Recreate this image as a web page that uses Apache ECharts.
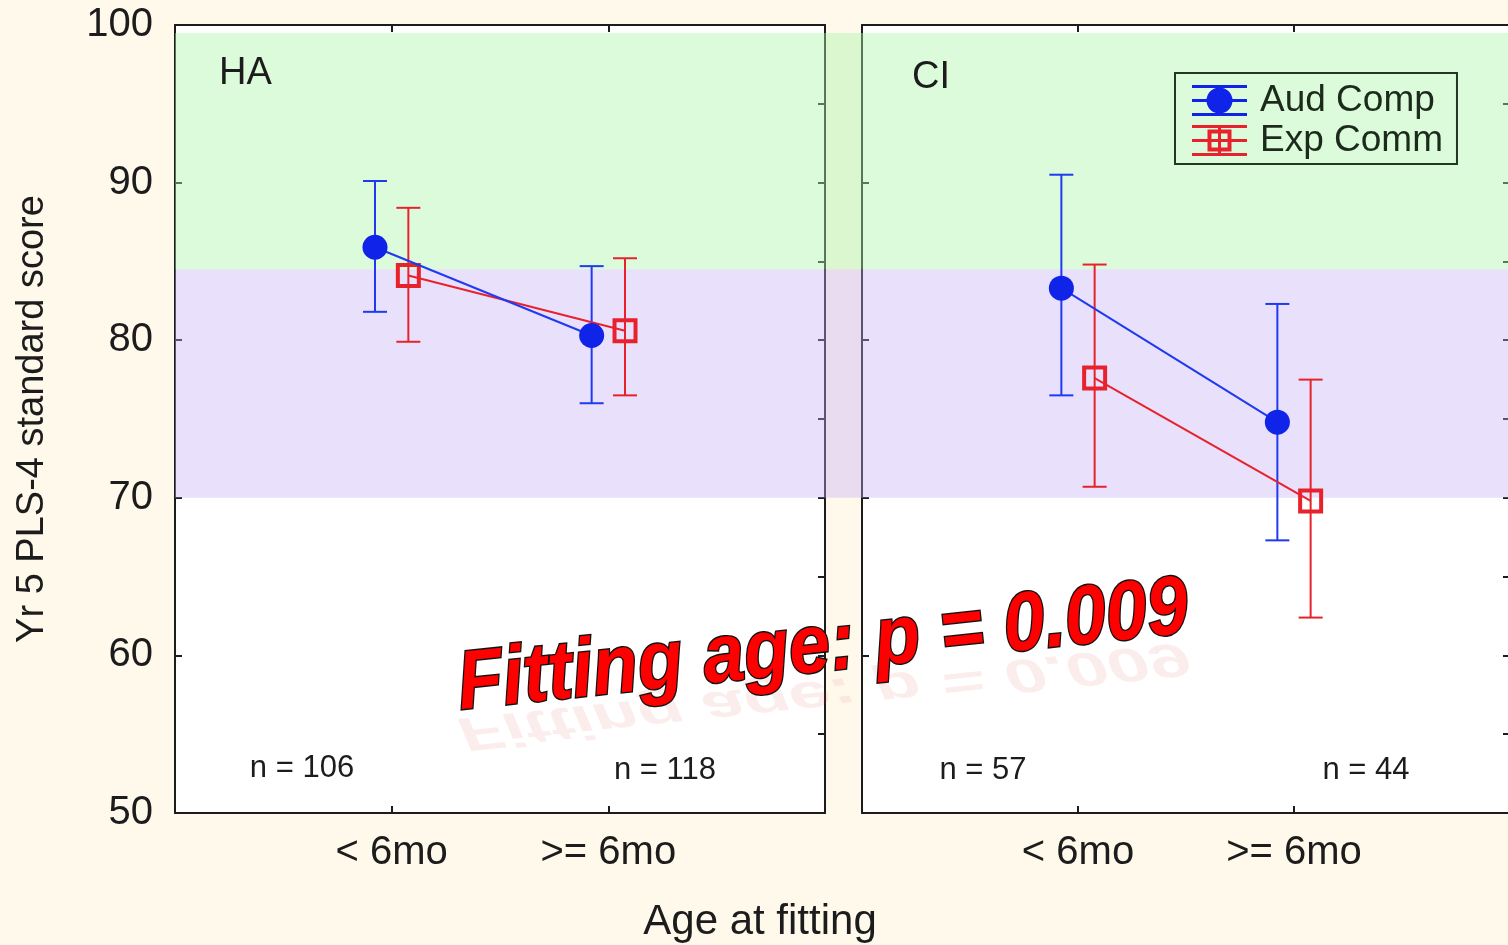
<!DOCTYPE html>
<html>
<head>
<meta charset="utf-8">
<script src="https://cdn.jsdelivr.net/npm/echarts@6/dist/echarts.min.js"></script>
<style>
  html, body { margin: 0; padding: 0; background: #fff9ec; }
  #chart { width: 1508px; height: 945px; }
</style>
</head>
<body>
<div id="chart"></div>
<script>
// age-at-fitting categories (x positions 1 and 2 on each panel)
const categories = ['< 6mo', '>= 6mo'];
const panels = ['HA', 'CI'];

// means and 95% CI ends
const haAud = [85.9, 80.3];
const haAudLo = [81.8, 76.0];
const haAudHi = [90.1, 84.7];
const haExp = [84.1, 80.6];
const haExpLo = [79.9, 76.5];
const haExpHi = [88.4, 85.2];

const ciAud = [83.3, 74.8];
const ciAudLo = [76.5, 67.3];
const ciAudHi = [90.5, 82.3];
const ciExp = [77.6, 69.8];
const ciExpLo = [70.7, 62.4];
const ciExpHi = [84.8, 77.5];

const nLabels = [['n = 106', 'n = 118'], ['n = 57', 'n = 44']];

// reference bands on the score scale
const greenBand = [84.5, 99.5];
const purpleBand = [70, 84.5];

const BLUE = '#0f24e8';
const BLUE_BAR = '#1f3af0';
const RED = '#e8222c';
const INK = '#1c1c1c';
const FONT = '"Liberation Sans", Arial, sans-serif';
const dodge = 0.077;

const chart = echarts.init(document.getElementById('chart'));

function meanData(vals, off) {
    return vals.map((v, i) => [i + 1 + off, v]);
}
function barData(lo, hi, off) {
    return lo.map((v, i) => [i + 1 + off, v, hi[i]]);
}

function errorSeries(lo, hi, off, color, axis) {
    return {
        type: 'custom',
        xAxisIndex: axis, yAxisIndex: axis,
        z: 3,
        silent: true,
        clip: false,
        data: barData(lo, hi, off),
        renderItem: function (params, api) {
            const a = api.coord([api.value(0), api.value(1)]);
            const b = api.coord([api.value(0), api.value(2)]);
            const st = { stroke: color, lineWidth: 2 };
            return {
                type: 'group',
                children: [
                    { type: 'line', shape: { x1: a[0], y1: a[1], x2: b[0], y2: b[1] }, style: st },
                    { type: 'line', shape: { x1: a[0] - 12, y1: a[1], x2: a[0] + 12, y2: a[1] }, style: st },
                    { type: 'line', shape: { x1: b[0] - 12, y1: b[1], x2: b[0] + 12, y2: b[1] }, style: st }
                ]
            };
        }
    };
}

function audSeries(vals, axis) {
    return {
        name: 'Aud Comp', type: 'line', xAxisIndex: axis, yAxisIndex: axis, z: 5,
        data: meanData(vals, -dodge),
        symbol: 'circle', symbolSize: 25,
        itemStyle: { color: BLUE },
        lineStyle: { color: BLUE_BAR, width: 2 }
    };
}
function expSeries(vals, axis) {
    return {
        name: 'Exp Comm', type: 'line', xAxisIndex: axis, yAxisIndex: axis, z: 4,
        data: meanData(vals, dodge),
        symbol: 'rect', symbolSize: 21,
        itemStyle: { color: 'rgba(0,0,0,0)', borderColor: RED, borderWidth: 4 },
        lineStyle: { color: RED, width: 2 }
    };
}

const gridBase = { top: 25, bottom: 132, outerBoundsMode: 'none', containLabel: false };
const grids = [
    Object.assign({ left: 175, right: -2, show: false }, gridBase),
    Object.assign({ left: 175, width: 650, show: true, backgroundColor: '#ffffff', borderWidth: 0, z: 0 }, gridBase),
    Object.assign({ left: 862, width: 648, show: true, backgroundColor: '#ffffff', borderWidth: 0, z: 0 }, gridBase)
];

const axisLine = { show: true, onZero: false, lineStyle: { color: INK, width: 2 } };
const axisTick = { show: true, inside: true, length: 7, lineStyle: { color: INK, width: 2 } };

function xAxes(gi) {
    return [
        {
            type: 'value', gridIndex: gi, min: 0, max: 3, interval: 1, position: 'bottom',
            axisLine: axisLine, axisTick: axisTick, splitLine: { show: false },
            axisLabel: {
                margin: 20, fontSize: 40, color: INK, fontFamily: FONT,
                formatter: v => (v >= 1 && v <= 2 ? categories[v - 1] : '')
            }
        },
        {
            type: 'value', gridIndex: gi, min: 0, max: 3, interval: 1, position: 'top',
            axisLine: axisLine, axisTick: axisTick, splitLine: { show: false },
            axisLabel: { show: false }
        }
    ];
}
function yAxes(gi, withLabels) {
    return [
        {
            type: 'value', gridIndex: gi, min: 50, max: 100, interval: 10, position: 'left',
            axisLine: axisLine, axisTick: axisTick, splitLine: { show: false },
            axisLabel: { show: withLabels, margin: 22, fontSize: 40, color: INK, fontFamily: FONT },
            name: withLabels ? 'Yr 5 PLS-4 standard score' : '',
            nameLocation: 'middle', nameGap: 123,
            nameTextStyle: { fontSize: 38, color: INK, fontFamily: FONT }
        },
        {
            type: 'value', gridIndex: gi, min: 50, max: 100, interval: 5, position: 'right',
            axisLine: axisLine, axisTick: axisTick, splitLine: { show: false },
            axisLabel: { show: false }
        }
    ];
}

const xAxis = [{ type: 'value', gridIndex: 0, min: 0, max: 1, show: false }]
    .concat(xAxes(1), xAxes(2));
const yAxis = [{ type: 'value', gridIndex: 0, min: 50, max: 100, show: false }]
    .concat(yAxes(1, true), yAxes(2, false));

// axis index 1 -> HA panel, 3 -> CI panel
const series = [
    {
        type: 'line', xAxisIndex: 0, yAxisIndex: 0, z: 1, silent: true,
        data: [[0, 40]], showSymbol: false, lineStyle: { opacity: 0 },
        markArea: {
            silent: true,
            data: [
                [{ yAxis: greenBand[0], itemStyle: { color: 'rgba(170,246,170,0.42)' } }, { yAxis: greenBand[1] }],
                [{ yAxis: purpleBand[0], itemStyle: { color: 'rgba(196,174,248,0.38)' } }, { yAxis: purpleBand[1] }]
            ]
        }
    },
    errorSeries(haAudLo, haAudHi, -dodge, BLUE_BAR, 1),
    errorSeries(haExpLo, haExpHi, dodge, RED, 1),
    expSeries(haExp, 1),
    audSeries(haAud, 1),
    errorSeries(ciAudLo, ciAudHi, -dodge, BLUE_BAR, 3),
    errorSeries(ciExpLo, ciExpHi, dodge, RED, 3),
    expSeries(ciExp, 3),
    audSeries(ciAud, 3)
];

const audIcon = 'path://M0,0h55v3h-55z M0,14h55v3h-55z M0,28h55v3h-55z M26,0h3v31h-3z M40.5,15.5a13,13 0 1,1 -26,0a13,13 0 1,1 26,0z';
const expIcon = 'path://M0,0h55v3h-55z M0,14h55v3h-55z M0,28h55v3h-55z M26,0h3v31h-3z M15.5,4.5h24v22h-24z M19.5,8.5v14h16v-14z';

const textStyle = (size) => ({ fill: INK, font: size + 'px ' + FONT });
const banner = 'Fitting age: p = 0.009';

const option = {
    backgroundColor: '#fff9ec',
    animation: false,
    grid: grids,
    xAxis: xAxis,
    yAxis: yAxis,
    legend: {
        orient: 'vertical',
        left: 1175, top: 73,
        padding: [9, 14, 5, 17],
        itemGap: 3,
        itemWidth: 55, itemHeight: 31,
        borderColor: '#233823', borderWidth: 2,
        textStyle: { fontSize: 37, color: '#1c2a1c', fontFamily: FONT, padding: [0, 0, 0, 8] },
        data: [
            { name: 'Aud Comp', icon: audIcon, itemStyle: { color: BLUE, borderWidth: 0 } },
            { name: 'Exp Comm', icon: expIcon, itemStyle: { color: RED, borderWidth: 0 } }
        ],
        selectedMode: false
    },
    graphic: [
        { type: 'text', z: 20, left: 219, top: 55, style: Object.assign({ text: panels[0] }, textStyle(38)) },
        { type: 'text', z: 20, left: 912, top: 59, style: Object.assign({ text: panels[1] }, textStyle(38)) },
        { type: 'text', z: 20, x: 302, y: 768, style: Object.assign({ text: nLabels[0][0], align: 'center', verticalAlign: 'middle' }, textStyle(31)) },
        { type: 'text', z: 20, x: 665, y: 770, style: Object.assign({ text: nLabels[0][1], align: 'center', verticalAlign: 'middle' }, textStyle(31)) },
        { type: 'text', z: 20, x: 983, y: 770, style: Object.assign({ text: nLabels[1][0], align: 'center', verticalAlign: 'middle' }, textStyle(31)) },
        { type: 'text', z: 20, x: 1366, y: 770, style: Object.assign({ text: nLabels[1][1], align: 'center', verticalAlign: 'middle' }, textStyle(31)) },
        { type: 'text', z: 20, x: 760, y: 922, style: Object.assign({ text: 'Age at fitting', align: 'center', verticalAlign: 'middle' }, textStyle(42)) },
        // faint reflection under the p-value banner
        {
            type: 'text', x: 823, y: 694, rotation: 0.105, scaleY: -0.65, z: 20,
            style: {
                text: banner, align: 'center', verticalAlign: 'middle',
                font: 'italic bold 74px ' + FONT, fill: 'rgba(225,80,80,0.1)'
            }
        },
        {
            type: 'text', x: 823, y: 648, rotation: 0.105, scaleY: 1.12, z: 21,
            style: {
                text: banner, align: 'center', verticalAlign: 'middle',
                font: 'italic bold 74px ' + FONT, fill: '#ff0000', stroke: '#111', lineWidth: 2.5
            }
        }
    ],
    series: series
};

chart.setOption(option);
</script>
</body>
</html>
